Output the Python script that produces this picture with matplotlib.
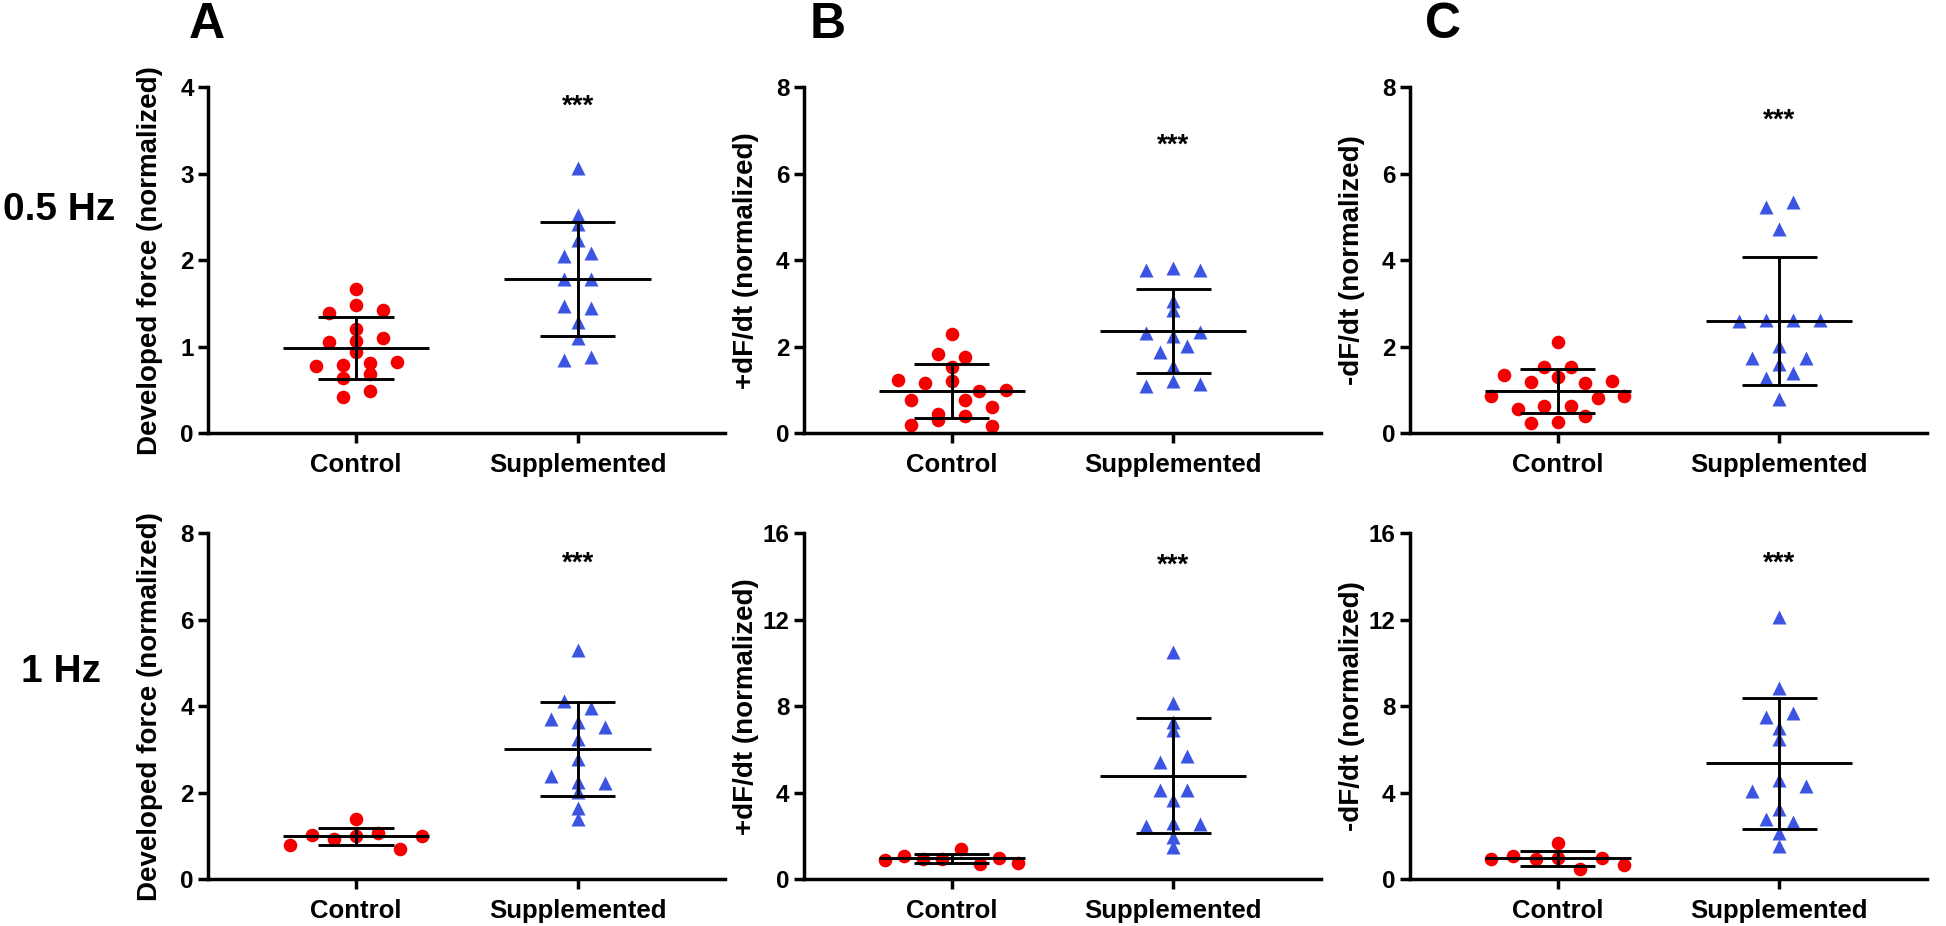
"""
Scatter dot plots of force and dF/dt, control vs supplemented,
at 0.5 Hz and 1 Hz stimulation (mean +/- SD).
"""

import numpy as np
import matplotlib.pyplot as plt

plt.rcParams["font.family"] = ["Liberation Sans", "DejaVu Sans"]
plt.rcParams["font.weight"] = "bold"
plt.rcParams["axes.labelweight"] = "bold"

groups = ["Control", "Supplemented"]
ylabels = ["Developed force (normalized)", "+dF/dt (normalized)", "-dF/dt (normalized)"]
panel_letters = ["A", "B", "C"]
row_labels = ["0.5 Hz", "1 Hz"]

# 0.5 Hz
force_05_ctrl = [1.21, 0.94, 0.78, 1.39, 1.05, 0.79, 0.42, 1.67, 1.48, 0.81, 0.64,
                 1.43, 1.07, 0.68, 0.49, 1.10, 0.83]
force_05_supp = [2.42, 2.23, 2.05, 1.78, 1.47, 1.29, 0.85, 3.07, 1.10, 2.52, 2.09,
                 1.78, 1.45, 0.88]
plus_05_ctrl = [1.24, 0.19, 1.84, 1.17, 0.77, 0.45, 2.30, 1.53, 1.20, 0.77, 0.31,
                1.76, 0.97, 0.39, 0.99, 0.60, 0.18]
plus_05_supp = [3.77, 2.32, 1.88, 1.10, 2.84, 3.83, 2.24, 1.22, 3.06, 3.78, 2.34,
                2.02, 1.55, 1.14]
minus_05_ctrl = [1.34, 0.87, 0.56, 0.23, 1.54, 1.18, 0.64, 2.11, 1.31, 0.64, 0.27,
                 1.54, 1.16, 0.81, 0.41, 1.21, 0.87]
minus_05_supp = [2.59, 1.75, 1.28, 5.24, 2.63, 4.73, 2.03, 1.61, 0.80, 5.34, 2.63,
                 1.74, 1.39, 2.63]

# 1 Hz
force_1_ctrl = [0.79, 1.03, 0.93, 1.39, 1.00, 1.07, 0.71, 1.00]
force_1_supp = [4.12, 3.70, 3.24, 2.38, 2.02, 1.39, 5.30, 3.63, 2.79, 2.25, 1.66,
                3.95, 3.51, 2.23]
plus_1_ctrl = [0.88, 1.07, 0.94, 0.96, 1.42, 0.73, 0.99, 0.77]
plus_1_supp = [2.47, 3.69, 6.90, 5.43, 2.62, 1.50, 10.52, 8.16, 4.12, 7.28, 5.69,
               1.96, 4.12, 2.55]
minus_1_ctrl = [0.93, 1.08, 0.96, 0.99, 1.68, 0.49, 0.99, 0.68]
minus_1_supp = [4.07, 2.78, 1.54, 7.52, 6.47, 12.14, 8.83, 4.61, 2.65, 7.68, 6.98,
                4.31, 3.27, 2.16]

# (control, supplemented, y max, y step, y of "***")
panels = [
    [(force_05_ctrl, force_05_supp, 4, 1, 3.78),
     (plus_05_ctrl, plus_05_supp, 8, 2, 6.66),
     (minus_05_ctrl, minus_05_supp, 8, 2, 7.22)],
    [(force_1_ctrl, force_1_supp, 8, 2, 7.29),
     (plus_1_ctrl, plus_1_supp, 16, 4, 14.5),
     (minus_1_ctrl, minus_1_supp, 16, 4, 14.6)],
]

RED = "#f50000"
BLUE = "#3b55e2"
W, H = 1946, 926
AX_W, AX_H = 517, 346


def dot_offsets(values, ymax, spacing=0.122, max_half=0.30, row_px=16):
    """Spread points of similar value side by side, GraphPad style."""
    values = np.asarray(values)
    h = row_px * ymax / AX_H
    order = np.argsort(-values, kind="stable")
    rows, current = [], [order[0]]
    for i in order[1:]:
        if values[current[0]] - values[i] > h or values[current[-1]] - values[i] > h / 2:
            rows.append(current)
            current = [i]
        else:
            current.append(i)
    rows.append(current)

    offsets = np.zeros(len(values))
    for row in rows:
        row = sorted(row)
        n = len(row)
        step = spacing if n < 2 else min(spacing, 2 * max_half / (n - 1))
        for k, i in enumerate(row):
            offsets[i] = (k - (n - 1) / 2) * step
    return offsets


fig = plt.figure(figsize=(W / 100, H / 100), dpi=100)

lefts = [208.3, 804, 1410]
bottoms = [433.3, 879.3]

for r in range(2):
    for c in range(3):
        ctrl, supp, ymax, ystep, star_y = panels[r][c]
        ax = fig.add_axes([lefts[c] / W, 1 - bottoms[r] / H, AX_W / W, AX_H / H])

        for i, (vals, marker, color, ms) in enumerate(
            [(ctrl, "o", RED, 9.8), (supp, "^", BLUE, 9.6)]
        ):
            vals = np.asarray(vals)
            x = i + dot_offsets(vals, ymax)
            ax.plot(x, vals, marker, color=color, ms=ms, mec="none",
                    zorder=2, clip_on=False)

            mean = vals.mean()
            sd = vals.std(ddof=1)
            ax.hlines(mean, i - 0.33, i + 0.33, color="black", lw=2.1, zorder=3)
            ax.hlines([mean - sd, mean + sd], i - 0.17, i + 0.17,
                      color="black", lw=2.1, zorder=3)
            ax.vlines(i, mean - sd, mean + sd, color="black", lw=2.1, zorder=3)

        ax.text(1, star_y, "***", ha="center", va="center", fontsize=20)

        ax.set_xlim(-0.667, 1.667)
        ax.set_ylim(0, ymax)
        ax.set_yticks(np.arange(0, ymax + ystep / 2, ystep))
        ax.set_xticks([0, 1])
        ax.set_xticklabels(groups)

        for side in ["top", "right"]:
            ax.spines[side].set_visible(False)
        for side in ["left", "bottom"]:
            ax.spines[side].set_linewidth(2.5)

        ax.tick_params(axis="both", direction="out", length=7, width=2.5)
        ax.tick_params(axis="y", labelsize=17.5, pad=3.5)
        ax.tick_params(axis="x", labelsize=18.5, pad=7)

        ax.set_ylabel(ylabels[c], fontsize=20)
        ax.yaxis.set_label_coords(-45 / AX_W, 0.5)

for letter, xpx in zip(panel_letters, [207, 828, 1443]):
    fig.text(xpx / W, 1 - 25 / H, letter, fontsize=36, ha="center", va="center")

fig.text(3 / W, 1 - 210 / H, row_labels[0], fontsize=28, ha="left", va="center")
fig.text(21 / W, 1 - 672 / H, row_labels[1], fontsize=28, ha="left", va="center")

fig.savefig("out.png", dpi=100)
